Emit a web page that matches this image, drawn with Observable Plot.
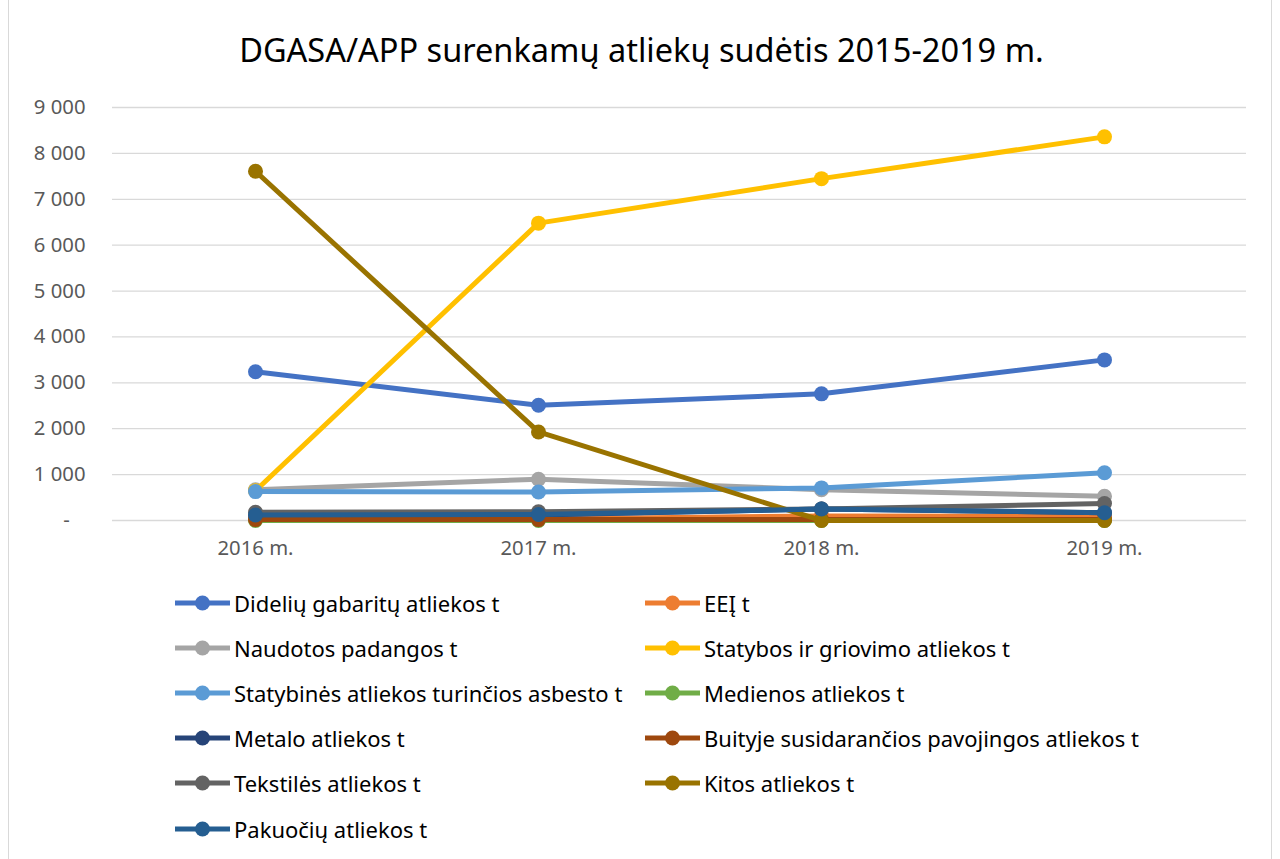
<!DOCTYPE html>
<html>
<head>
<meta charset="utf-8">
<script src="https://cdn.jsdelivr.net/npm/d3@7"></script>
<script src="https://cdn.jsdelivr.net/npm/@observablehq/plot@0.6"></script>
<style>
  html, body { margin: 0; padding: 0; background: #fff; }
  body { width: 1280px; height: 859px; position: relative; overflow: hidden; font-family: "Noto Sans", "Open Sans", sans-serif; }
  #frame { position: absolute; left: 8px; top: -2px; width: 1264px; height: 870px; border: 1px solid #d9d9d9; box-sizing: border-box; }
  #title { position: absolute; top: 27px; left: 0; width: 1283px; text-align: center; font-size: 32.5px; color: #000; }
  #chart { position: absolute; left: 0; top: 90px; }
  #chart svg text { font-size: 20.3px !important; }
  #legend { position: absolute; left: 0; top: 588px; width: 1280px; }
  .item { position: absolute; display: flex; align-items: center; font-size: 22px; color: #000; height: 30px; white-space: nowrap; }
  .item svg { margin-right: 3px; }
</style>
</head>
<body>
<div id="frame"></div>
<div id="title">DGASA/APP surenkamų atliekų sudėtis 2015-2019 m.</div>
<div id="chart"></div>
<div id="legend"></div>
<script>
// Categories
const years = ["2016 m.", "2017 m.", "2018 m.", "2019 m."];
const yTicks = [0, 1000, 2000, 3000, 4000, 5000, 6000, 7000, 8000, 9000];

// Series names (drawing order) and colours
const seriesNames = [
  "Didelių gabaritų atliekos t",
  "EEĮ t",
  "Naudotos padangos t",
  "Statybos ir griovimo atliekos t",
  "Statybinės atliekos turinčios asbesto t",
  "Medienos atliekos t",
  "Metalo atliekos t",
  "Buityje susidarančios pavojingos atliekos t",
  "Tekstilės atliekos t",
  "Kitos atliekos t",
  "Pakuočių atliekos t"
];
const seriesColors = ["#4472C4", "#ED7D31", "#A5A5A5", "#FFC000", "#5B9BD5", "#70AD47", "#264478", "#9E480E", "#636363", "#997300", "#255E91"];

// Series values (t), per year 2016..2019
const dideliu    = [3240, 2510, 2760, 3500];
const eej        = [30, 30, 100, 90];
const padangos   = [670, 900, 670, 530];
const statybos   = [650, 6480, 7450, 8360];
const asbestas   = [630, 620, 710, 1040];
const medienos   = [0, 0, 0, 0];
const metalo     = [120, 120, 250, 170];
const buityje    = [20, 20, 20, 20];
const tekstiles  = [180, 190, 250, 370];
const kitos      = [7610, 1930, 0, 0];
const pakuociu   = [120, 130, 250, 170];

const seriesValues = [dideliu, eej, padangos, statybos, asbestas, medienos, metalo, buityje, tekstiles, kitos, pakuociu];

const data = [];
seriesNames.forEach((s, i) => {
  years.forEach((y, j) => data.push({series: s, year: y, value: seriesValues[i][j], order: i}));
});

const fmt = d => d === 0 ? "-\u00a0\u00a0\u00a0" : d3.format(",")(d).replace(/,/g, "\u00a0");

const chart = Plot.plot({
  width: 1280,
  height: 480,
  marginTop: 17,
  marginLeft: 112,
  marginRight: 34,
  marginBottom: 50,
  style: { fontFamily: "'Noto Sans', 'Open Sans', sans-serif", fontSize: "20.3px", color: "#595959", background: "transparent" },
  x: { type: "point", domain: years, padding: 0.5, label: null },
  y: { domain: [0, 9000], label: null },
  color: { domain: seriesNames, range: seriesColors },
  marks: [
    Plot.ruleY(yTicks, { stroke: "#d9d9d9", strokeWidth: 1.3 }),
    Plot.axisY({ ticks: yTicks, tickFormat: fmt, tickSize: 0, tickPadding: 27, fill: "#595959" }),
    Plot.axisX({ tickSize: 0, tickPadding: 20, fill: "#595959" }),
    ...seriesNames.map((s, i) => {
      const sd = data.filter(d => d.order === i);
      return [
        Plot.line(sd, { x: "year", y: "value", stroke: seriesColors[i], strokeWidth: 5 }),
        Plot.dot(sd, { x: "year", y: "value", fill: seriesColors[i], r: 7.5, stroke: "none" })
      ];
    }).flat()
  ]
});
document.getElementById("chart").appendChild(chart);

// Legend (two columns)
const legend = document.getElementById("legend");
seriesNames.forEach((s, i) => {
  const col = i % 2, row = Math.floor(i / 2);
  const el = document.createElement("div");
  el.className = "item";
  el.style.left = (col === 0 ? 174 : 644) + "px";
  el.style.top = (row * 45.1) + "px";
  el.innerHTML = `<svg width="57" height="20"><line x1="1" x2="56" y1="10" y2="10" stroke="${seriesColors[i]}" stroke-width="5"/><circle cx="28.5" cy="10" r="7.5" fill="${seriesColors[i]}"/></svg><span>${s}</span>`;
  legend.appendChild(el);
});
</script>
</body>
</html>
